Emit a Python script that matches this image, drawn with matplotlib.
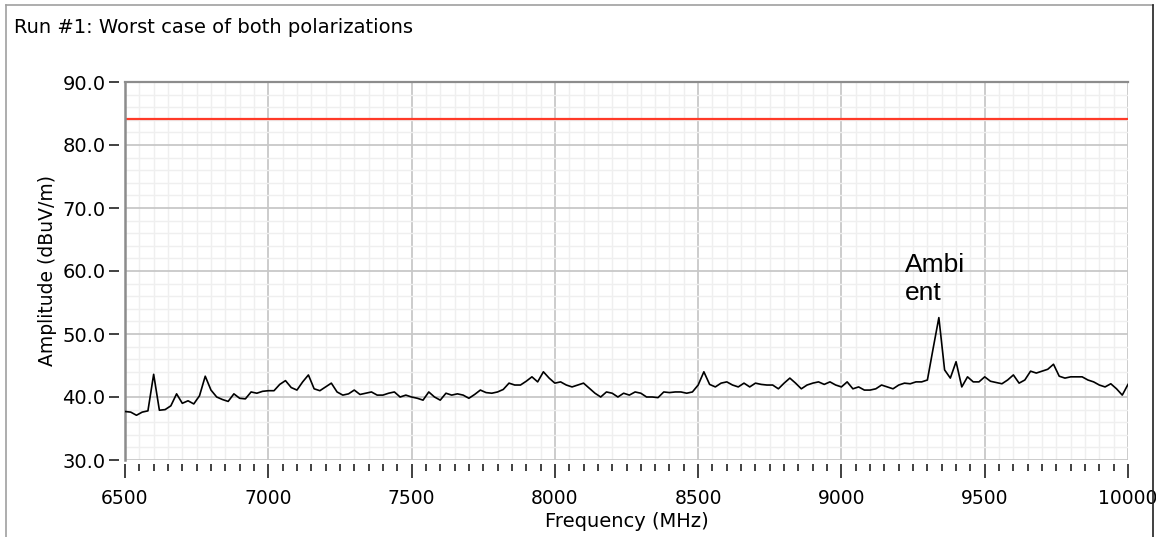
import matplotlib

matplotlib.use("Agg")
import matplotlib.pyplot as plt
from matplotlib.lines import Line2D
from matplotlib.ticker import MultipleLocator, FormatStrFormatter
import numpy as np

# sweep grid, 20 MHz steps from 6500 to 10000 MHz
freq_mhz = np.arange(6500, 10001, 20)

# worst-case amplitude of both polarizations, dBuV/m
amplitude = [
    37.7, 37.6, 37.1, 37.6, 37.8, 43.6, 37.9, 38.0, 38.6, 40.5,  # 6500
    39.0, 39.4, 38.9, 40.2, 43.3, 41.1, 40.0, 39.6, 39.3, 40.5,  # 6700
    39.8, 39.7, 40.8, 40.6, 40.9, 41.0, 41.0, 42.0, 42.6, 41.5,  # 6900
    41.1, 42.4, 43.5, 41.3, 41.0, 41.6, 42.2, 40.8, 40.3, 40.5,  # 7100
    41.1, 40.4, 40.6, 40.8, 40.3, 40.3, 40.6, 40.8, 40.0, 40.3,  # 7300
    40.0, 39.8, 39.5, 40.8, 40.0, 39.5, 40.6, 40.3, 40.5, 40.3,  # 7500
    39.8, 40.4, 41.1, 40.7, 40.6, 40.8, 41.2, 42.2, 41.9, 41.9,  # 7700
    42.5, 43.2, 42.4, 44.0, 43.0, 42.2, 42.4, 41.9, 41.6, 41.9,  # 7900
    42.2, 41.4, 40.6, 40.0, 40.8, 40.6, 40.0, 40.6, 40.3, 40.8,  # 8100
    40.6, 40.0, 40.0, 39.9, 40.8, 40.7, 40.8, 40.8, 40.6, 40.8,  # 8300
    41.9, 44.0, 42.0, 41.6, 42.2, 42.4, 41.9, 41.6, 42.2, 41.6,  # 8500
    42.2, 42.0, 41.9, 41.9, 41.3, 42.2, 43.0, 42.2, 41.3, 41.9,  # 8700
    42.2, 42.4, 42.0, 42.4, 41.9, 41.6, 42.4, 41.3, 41.6, 41.1,  # 8900
    41.1, 41.3, 41.9, 41.6, 41.3, 41.9, 42.2, 42.1, 42.4, 42.4,  # 9100
    42.7, 47.7, 52.6, 44.3, 43.0, 45.6, 41.6, 43.2, 42.4, 42.4,  # 9300
    43.2, 42.5, 42.3, 42.1, 42.7, 43.5, 42.2, 42.7, 44.1, 43.8,  # 9500
    44.1, 44.4, 45.2, 43.3, 43.0, 43.2, 43.2, 43.2, 42.7, 42.4,  # 9700
    41.9, 41.6, 42.1, 41.3, 40.3, 42.0,                          # 9900
]

limit_dbuv = 84.2
freq_range = (6500, 10000)
amp_range = (30, 90)
title = "Run #1: Worst case of both polarizations"
note = "Ambi\nent"
note_pos = (9220, 62.9)

fig = plt.figure(figsize=(11.56, 5.37), dpi=100)
ax = fig.add_axes([125 / 1156, 77 / 537, 1003 / 1156, 378 / 537])

ax.set_xlim(*freq_range)
ax.set_ylim(*amp_range)

ax.xaxis.set_major_locator(MultipleLocator(500))
ax.xaxis.set_minor_locator(MultipleLocator(50))
ax.yaxis.set_major_locator(MultipleLocator(10))
ax.yaxis.set_minor_locator(MultipleLocator(2))
ax.yaxis.set_major_formatter(FormatStrFormatter("%.1f"))

ax.grid(which="minor", color="#efefef", lw=1.0, zorder=0)
ax.grid(which="major", color="#c8c8c8", lw=1.3, zorder=0.5)

# frame: only left and top borders are drawn, ticks sit just outside
for side in ("right", "bottom", "left"):
    ax.spines[side].set_visible(False)
ax.spines["top"].set_color("#8c8c8c")
ax.spines["top"].set_linewidth(1.6)
ax.spines["bottom"].set_position(("outward", 3))
ax.spines["left"].set_position(("outward", 4))
ax.axvline(freq_range[0], color="#8c8c8c", lw=1.8, zorder=3, clip_on=False)

ax.tick_params(axis="x", which="major", length=10, width=1.4, color="#404040",
               labelsize=13.5, pad=8)
ax.tick_params(axis="x", which="minor", length=5, width=1.4, color="#404040")
ax.tick_params(axis="y", which="major", length=7, width=1.4, color="#404040",
               labelsize=14, pad=3)
ax.tick_params(axis="y", which="minor", length=0)

ax.axhline(limit_dbuv, color="#ff3a28", lw=1.6, zorder=2)
ax.plot(freq_mhz, amplitude, color="black", lw=1.2, zorder=3)

ax.text(note_pos[0], note_pos[1], note, ha="left", va="top",
        fontsize=19, family="Liberation Sans", linespacing=1.25, zorder=4)

ax.set_xlabel("Frequency (MHz)", fontsize=14, labelpad=3)
ax.set_ylabel("Amplitude (dBuV/m)", fontsize=13.5, labelpad=4)

fig.text(14 / 1156, 1 - 28 / 537, title, ha="left", va="center", fontsize=14)

# outer panel border
fig.add_artist(Line2D([5.5 / 1156, 5.5 / 1156], [0, 1 - 4.5 / 537],
                      transform=fig.transFigure, color="#a0a0a0", lw=1.2))
fig.add_artist(Line2D([5.5 / 1156, 1152.5 / 1156], [1 - 4.5 / 537, 1 - 4.5 / 537],
                      transform=fig.transFigure, color="#a0a0a0", lw=1.2))
fig.add_artist(Line2D([1152.5 / 1156, 1152.5 / 1156], [0, 1 - 4.5 / 537],
                      transform=fig.transFigure, color="#202020", lw=1.2))

fig.savefig("out.png", dpi=100)
